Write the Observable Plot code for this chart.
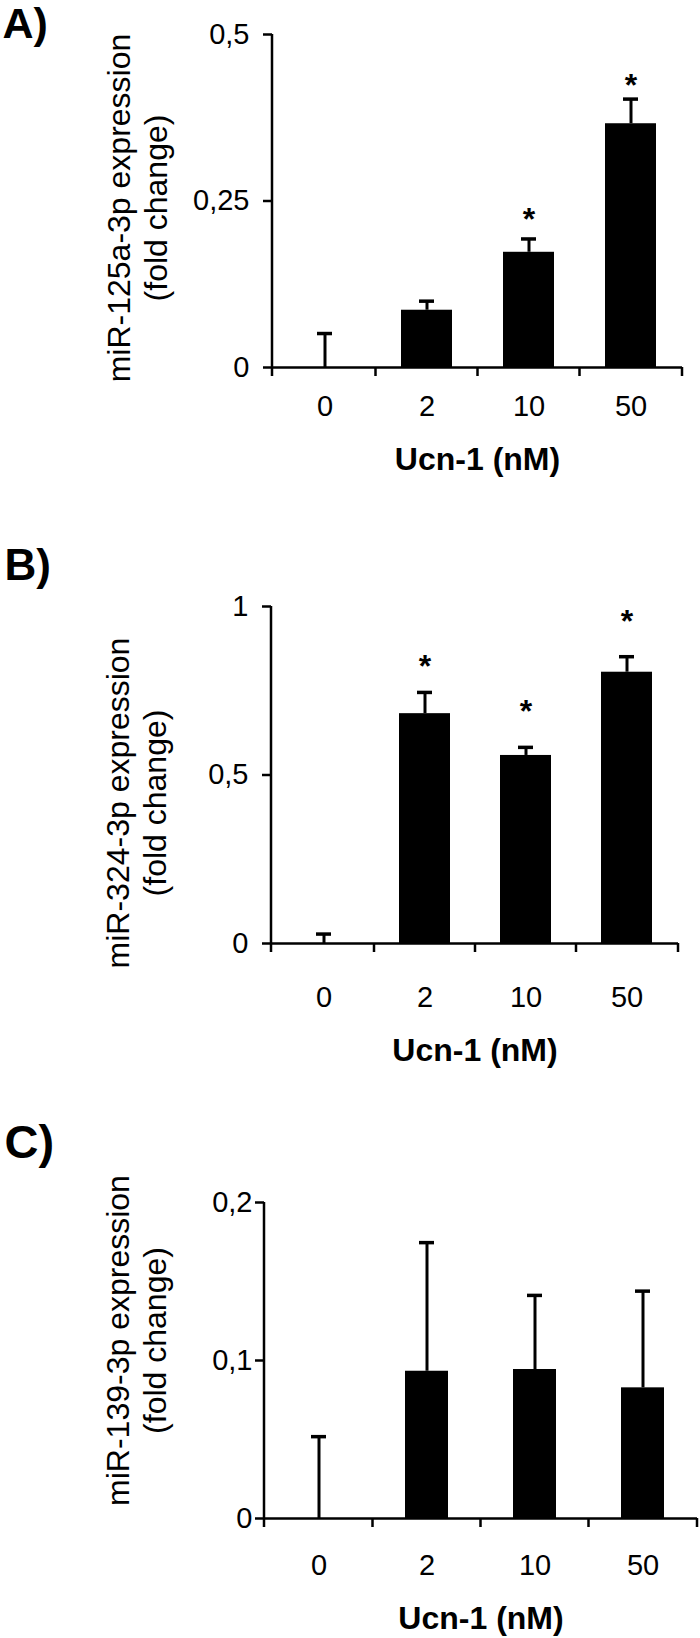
<!DOCTYPE html>
<html>
<head>
<meta charset="utf-8">
<script src="https://cdn.jsdelivr.net/npm/d3@7"></script>
<script src="https://cdn.jsdelivr.net/npm/@observablehq/plot@0.6"></script>
<style>
  html, body { margin: 0; padding: 0; background: #fff; }
  #chart { width: 700px; height: 1638px; }
  #chart svg { display: block; }
</style>
</head>
<body>
<div id="chart"></div>
<script>
// ---------- data ----------
const doses = ["0", "2", "10", "50"];
const xTitle = "Ucn-1 (nM)";

const labelA = "A)";
const yTitleA = ["miR-125a-3p expression", "(fold change)"];
const mir125 = [0, 0.086, 0.173, 0.366];
const mir125Err = [0.051, 0.0996, 0.193, 0.403];
const mir125Star = [null, null, 0.234, 0.435];
const yTicksA = [0, 0.25, 0.5];

const labelB = "B)";
const yTitleB = ["miR-324-3p expression", "(fold change)"];
const mir324 = [0, 0.682, 0.558, 0.805];
const mir324Err = [0.028, 0.745, 0.582, 0.851];
const mir324Star = [null, 0.844, 0.710, 0.979];
const yTicksB = [0, 0.5, 1];

const labelC = "C)";
const yTitleC = ["miR-139-3p expression", "(fold change)"];
const mir139 = [0, 0.0932, 0.0943, 0.0827];
const mir139Err = [0.0518, 0.1746, 0.1412, 0.1439];
const mir139Star = [null, null, null, null];
const yTicksC = [0, 0.1, 0.2];

// ---------- drawing ----------
const FONT = '"Liberation Sans", Arial, Helvetica, sans-serif';
const fmt = d => String(d).replace(".", ",");

function panel(cfg) {
  const data = doses.map((d, i) => ({
    dose: d, value: cfg.values[i], err: cfg.errs[i], star: cfg.stars[i]
  }));
  const yMax = cfg.yTicks[cfg.yTicks.length - 1];
  const tickLen = 9;

  // axis lines and category boundary ticks, positioned with Plot's own scales
  const axisFrame = (index, scales, values, dims) => {
    const x = scales.x, y = scales.y;
    const bw = typeof x.bandwidth === "function" ? x.bandwidth() : x.bandwidth;
    const left = dims.marginLeft, right = dims.width - dims.marginRight;
    const y0 = y(0);
    const g = d3.create("svg:g").attr("stroke", "black").attr("stroke-width", 2.5).attr("fill", "none");
    g.append("line").attr("x1", left).attr("x2", left).attr("y1", y(yMax)).attr("y2", y0 + tickLen);
    const bounds = [];
    for (let i = 1; i < doses.length; i++) bounds.push((x(doses[i - 1]) + bw + x(doses[i])) / 2);
    bounds.push(right);
    for (const b of bounds) g.append("line").attr("x1", b).attr("x2", b).attr("y1", y0).attr("y2", y0 + tickLen);
    return g.node();
  };

  return Plot.plot({
    width: 700,
    height: cfg.height,
    marginTop: cfg.mt,
    marginBottom: cfg.mb,
    marginLeft: cfg.ml,
    marginRight: cfg.mr,
    style: { fontFamily: FONT, color: "black", background: "white", overflow: "visible" },
    x: { type: "band", domain: doses, paddingInner: cfg.pi, paddingOuter: cfg.pi / 2, axis: null },
    y: { domain: [0, yMax], axis: null },
    marks: [
      Plot.barY(data, { x: "dose", y: "value", fill: "black" }),
      Plot.ruleX(data, { x: "dose", y1: "value", y2: "err", stroke: "black", strokeWidth: 3 }),
      Plot.tickY(data, { x: "dose", y: "err", stroke: "black", strokeWidth: 3.5, insetLeft: cfg.capInset, insetRight: cfg.capInset }),
      Plot.ruleY([0], { stroke: "black", strokeWidth: 2.5 }),
      axisFrame,
      Plot.axisY({ ticks: cfg.yTicks, tickFormat: fmt, tickSize: tickLen, tickPadding: cfg.ytp,
        strokeWidth: 2.5, fontSize: 29, label: null }),
      Plot.axisX({ tickSize: 0, tickPadding: cfg.xtp, fontSize: 29, label: null }),
      Plot.text(data.filter(d => d.star != null), { x: "dose", y: "star", text: () => "*",
        fontSize: 32, fontWeight: "bold", dy: 8 }),
      Plot.text([cfg.yTitle.join("\n")], { frameAnchor: "left", text: d => d, rotate: -90,
        textAnchor: "middle", lineAnchor: "middle",
        fontSize: 32, lineHeight: 1.15, dx: cfg.ytdx, dy: cfg.ytdy }),
      Plot.text([xTitle], { frameAnchor: "bottom", text: d => d, textAnchor: "middle", lineAnchor: "middle",
        fontSize: 32, fontWeight: "bold", dy: cfg.xtdy }),
      Plot.text([cfg.label], { frameAnchor: "top-left", text: d => d, textAnchor: "start", lineAnchor: "top",
        fontSize: cfg.lfs, fontWeight: "bold", dx: cfg.ldx - cfg.ml, dy: cfg.ldy - cfg.mt })
    ]
  });
}

const root = document.getElementById("chart");
root.appendChild(panel({
  label: labelA, yTitle: yTitleA, values: mir125, errs: mir125Err, stars: mir125Star, yTicks: yTicksA,
  height: 540, mt: 34, mb: 173, ml: 272, mr: 18, pi: 0.5, capInset: 18,
  ytp: 14, xtp: 28, xtdy: 92, ytdx: -136, ytdy: 7, lfs: 43, ldx: 2, ldy: 7
}));
root.appendChild(panel({
  label: labelB, yTitle: yTitleB, values: mir324, errs: mir324Err, stars: mir324Star, yTicks: yTicksB,
  height: 560, mt: 66, mb: 157, ml: 271, mr: 22, pi: 0.5, capInset: 18,
  ytp: 14, xtp: 43, xtdy: 107, ytdx: -136, ytdy: 28, lfs: 44, ldx: 4, ldy: 8
}));
root.appendChild(panel({
  label: labelC, yTitle: yTitleC, values: mir139, errs: mir139Err, stars: mir139Star, yTicks: yTicksC,
  height: 538, mt: 102, mb: 120, ml: 264, mr: 3, pi: 0.6, capInset: 14,
  ytp: 3, xtp: 36, xtdy: 100, ytdx: -129, ytdy: -20, lfs: 47, ldx: 4, ldy: 24
}));
</script>
</body>
</html>
